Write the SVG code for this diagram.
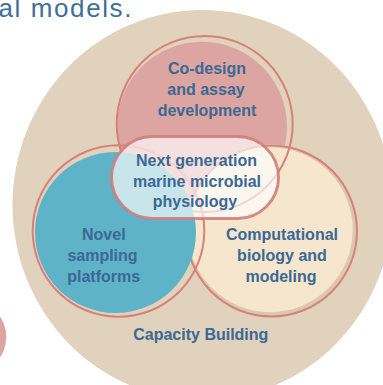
<svg xmlns="http://www.w3.org/2000/svg" width="383" height="385" viewBox="0 0 383 385">
  <style>
    .lbl { font-family: "Liberation Sans", Arial, sans-serif; font-weight: 700; font-size: 16px; fill: #3b6894; text-anchor: middle; }
    .ring { fill: none; stroke: #d9807b; stroke-width: 2; }
    .head { font-family: "Liberation Sans", Arial, sans-serif; font-weight: 400; font-size: 26px; fill: #3f6e9a; letter-spacing: 1.6px; }
  </style>
  <defs>
    <mask id="m-cream" maskUnits="userSpaceOnUse" x="0" y="0" width="383" height="385">
      <rect x="0" y="0" width="383" height="385" fill="#fff"/>
      <circle cx="271.5" cy="231" r="86.5" fill="#000"/>
    </mask>
  </defs>
  <rect x="0" y="0" width="383" height="385" fill="#ffffff"/>

  <text class="head" x="-1.5" y="17">al models.</text>

  <g id="capacity-building">
    <ellipse cx="202.5" cy="205" rx="190" ry="195" fill="#e0d2bd"/>
    <text class="lbl" x="200.8" y="340">Capacity Building</text>
  </g>

  <g id="side-dot">
    <circle cx="-30" cy="337" r="36.3" fill="#dca5a2"/>
  </g>

  <g id="node-computational">
    <circle cx="271.5" cy="231" r="85.5" fill="#d9c9b1"/>
    <circle cx="270.2" cy="229.7" r="82.5" fill="#f6e6cd"/>
    <circle class="ring" cx="271.5" cy="231" r="85.5"/>
    <text class="lbl" x="282" y="240">Computational</text>
    <text class="lbl" x="282" y="261">biology and</text>
    <text class="lbl" x="281" y="282">modeling</text>
  </g>

  <g id="node-codesign">
    <circle cx="202" cy="126.7" r="85" fill="#dca5a1" mask="url(#m-cream)"/>
    <circle class="ring" cx="204.7" cy="124" r="88"/>
    <text class="lbl" x="207" y="73.5">Co-design</text>
    <text class="lbl" x="206" y="94.8">and assay</text>
    <text class="lbl" x="207" y="116">development</text>
  </g>

  <g id="node-sampling">
    <circle cx="115.5" cy="232.5" r="80.5" fill="#5eb3c8"/>
    <circle class="ring" cx="118.5" cy="231" r="85.8"/>
    <text class="lbl" x="103.8" y="240">Novel</text>
    <text class="lbl" x="102.5" y="261">sampling</text>
    <text class="lbl" x="103.7" y="282">platforms</text>
  </g>

  <g id="node-physiology">
    <rect x="111.5" y="136.5" width="167" height="82" rx="41" ry="41" fill="#ffffff" fill-opacity="0.66" stroke="#d07e7a" stroke-opacity="0.9" stroke-width="3"/>
    <text class="lbl" x="196.5" y="165.7">Next generation</text>
    <text class="lbl" x="197" y="186.7">marine microbial</text>
    <text class="lbl" x="195" y="207.3">physiology</text>
  </g>

  <g id="connectors"/>
</svg>
